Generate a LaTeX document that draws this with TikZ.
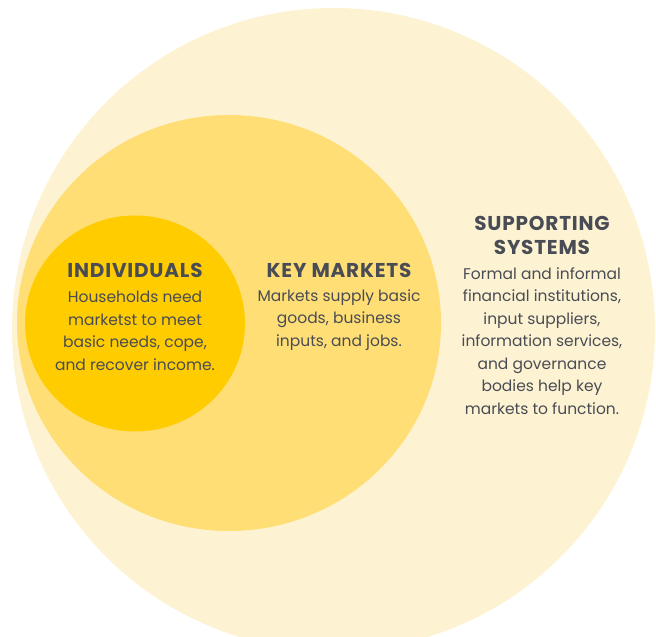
\documentclass[tikz,border=0pt]{standalone}
\usepackage{fontspec}
\setmainfont{Poppins}
\definecolor{outerc}{HTML}{FDF3D3}
\definecolor{midc}{HTML}{FFDE75}
\definecolor{innerc}{HTML}{FFCC00}
\definecolor{textc}{HTML}{494C54}
\begin{document}
\begin{tikzpicture}[x=1pt,y=-1pt,
  titlebox/.style={text=textc,align=center,inner sep=0pt,
    font=\fontsize{20}{24}\selectfont\bfseries\addfontfeature{LetterSpace=4}},
  bodybox/.style={text=textc,align=center,inner sep=0pt,
    font=\fontsize{15.5}{22.5}\selectfont}]
\useasboundingbox (0,0) rectangle (656,637);
\fill[outerc] (333.5,329.5) circle (321.5pt);
\fill[midc] (229,323) ellipse (212pt and 208pt);
\fill[innerc] (135,323.5) ellipse (110pt and 108pt);
\node[titlebox] (indt) at (135,270) {INDIVIDUALS};
\node[bodybox] (indb) at (135,331) {Households need\\marketst to meet\\basic needs, cope,\\and recover income.};
\node[titlebox] (keyt) at (339,270) {KEY MARKETS};
\node[bodybox] (keyb) at (339,320) {Markets supply basic\\goods, business\\inputs, and jobs.};
\node[titlebox] (supt) at (542,235) {SUPPORTING\\SYSTEMS};
\node[bodybox] (supb) at (542,341) {Formal and informal\\financial institutions,\\input suppliers,\\information services,\\and governance\\bodies help key\\markets to function.};
\end{tikzpicture}
\end{document}
